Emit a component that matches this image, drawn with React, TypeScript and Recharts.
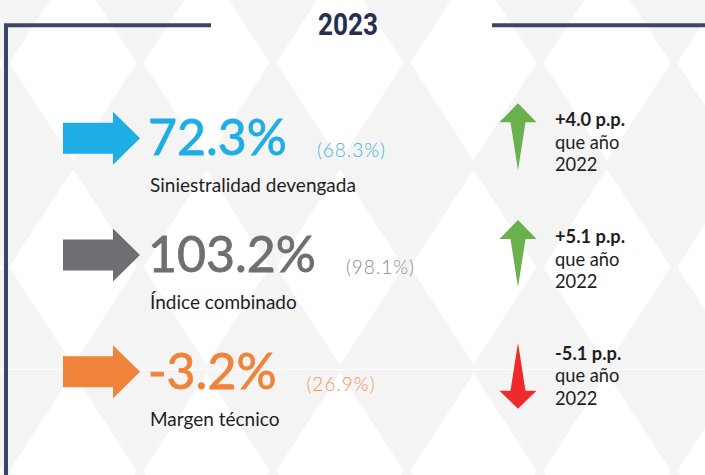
import React from 'react';
import { ScatterChart, Scatter, XAxis, YAxis, Customized } from 'recharts';

// ---- data ----
const metricLabels = ['Siniestralidad devengada', 'Índice combinado', 'Margen técnico'];
const values2023 = [72.3, 103.2, -3.2];
const values2022 = [68.3, 98.1, 26.9];
const changesPP = [4.0, 5.1, -5.1];
const titleYear = '2023';
const comparisonYear = '2022';
const comparisonText = 'que año';

// ---- styles ----
const rowColors = ['#1eade4', '#6e6f72', '#ef8339'];
const prevColors = ['#3ab2e6', '#86878a', '#f0935a'];
const upColor = '#6ab04c';
const downColor = '#ee2a2a';
const frameColor = '#3c4566';
const titleColor = '#262f4f';
const textColor = '#1e1e1e';

const rows = metricLabels.map((metric, i) => ({
  metric,
  value: values2023[i],
  prev: values2022[i],
  change: changesPP[i],
  color: rowColors[i],
  prevColor: prevColors[i],
}));

const fmtPct = (v: number) => `${v.toFixed(1)}%`;
const fmtPP = (v: number) => `${v > 0 ? '+' : ''}${v.toFixed(1)} p.p.`;

const KpiRow = (props: any) => {
  const { cy, payload } = props;
  if (cy == null || !payload) return null;
  const up = payload.change >= 0;
  const ax = 518;
  const blockArrow = `M63,${cy - 15.5} L113,${cy - 15.5} L113,${cy - 26.5} L140,${cy} L113,${cy + 26.5} L113,${cy + 15.5} L63,${cy + 15.5} Z`;
  let changeArrow: string;
  if (up) {
    const t = cy - 35;
    changeArrow = `M${ax},${t} L${ax + 18.5},${t + 19} L${ax + 7.5},${t + 19} L${ax},${t + 67} L${ax - 7.5},${t + 19} L${ax - 18.5},${t + 19} Z`;
  } else {
    const t = cy - 29;
    changeArrow = `M${ax},${t} L${ax + 7.5},${t + 48} L${ax + 18.5},${t + 48} L${ax},${t + 66} L${ax - 18.5},${t + 48} L${ax - 7.5},${t + 48} Z`;
  }
  return (
    <g>
      <path d={blockArrow} fill={payload.color} />
      <text x={148} y={cy + 17} fontFamily="Lato" fontSize={50} fill={payload.color}>
        <tspan stroke={payload.color} strokeWidth={0.8}>{fmtPct(payload.value)}</tspan>
        <tspan dx={30} dy={2} fontSize={19} fontWeight={300} letterSpacing={1} fill={payload.prevColor}>
          ({fmtPct(payload.prev)})
        </tspan>
      </text>
      <text x={150} y={cy + 54} fontFamily="Lato" fontSize={19} fill={textColor}>
        {payload.metric}
      </text>
      <path d={changeArrow} fill={up ? upColor : downColor} />
      <text x={555} y={cy - 12} fontFamily="Lato" fontSize={18.3} fill={textColor}>
        <tspan fontWeight={700}>{fmtPP(payload.change)}</tspan>
        <tspan x={555} dy={22.5}>{comparisonText}</tspan>
        <tspan x={555} dy={22.5}>{comparisonYear}</tspan>
      </text>
    </g>
  );
};

const Frame = () => (
  <g>
    <path d="M6,475 L6,25.3 L211,25.3" fill="none" stroke={frameColor} strokeWidth={4} strokeLinejoin="miter" />
    <path d="M492,25.3 L705,25.3" fill="none" stroke={frameColor} strokeWidth={4} />
    <text
      x={318}
      y={35}
      fontFamily="Roboto"
      fontWeight={700}
      fontSize={31}
      fill={titleColor}
      textLength={60}
      lengthAdjust="spacingAndGlyphs"
    >
      {titleYear}
    </text>
  </g>
);

const tileSvg =
  "<svg xmlns='http://www.w3.org/2000/svg' width='133.5' height='204' viewBox='0 0 133.5 204'>" +
  "<polygon points='66.75,4 130.25,102 66.75,200 3.25,102' fill='#ffffff'/></svg>";

export default function App() {
  return (
    <div
      style={{
        position: 'absolute',
        left: 0,
        top: 0,
        width: 705,
        height: 475,
        overflow: 'hidden',
        backgroundColor: '#f4f4f4',
        backgroundImage: `url("data:image/svg+xml,${encodeURIComponent(tileSvg)}")`,
        backgroundPosition: '6.25px -39px',
        backgroundSize: '133.5px 204px',
        backgroundRepeat: 'repeat',
      }}
    >
      <div style={{ position: 'absolute', left: 0, top: 369, width: 705, height: 1, background: '#ffffff' }} />
      <div style={{ position: 'absolute', left: 0, top: 0 }}>
        <ScatterChart width={705} height={475} margin={{ top: 80, right: 0, bottom: 45, left: 0 }}>
          <XAxis dataKey="value" type="number" hide />
          <YAxis dataKey="metric" type="category" hide reversed />
          <Customized component={Frame} />
          <Scatter data={rows} dataKey="value" isAnimationActive={false} shape={(p: any) => <KpiRow {...p} />} />
        </ScatterChart>
      </div>
    </div>
  );
}
